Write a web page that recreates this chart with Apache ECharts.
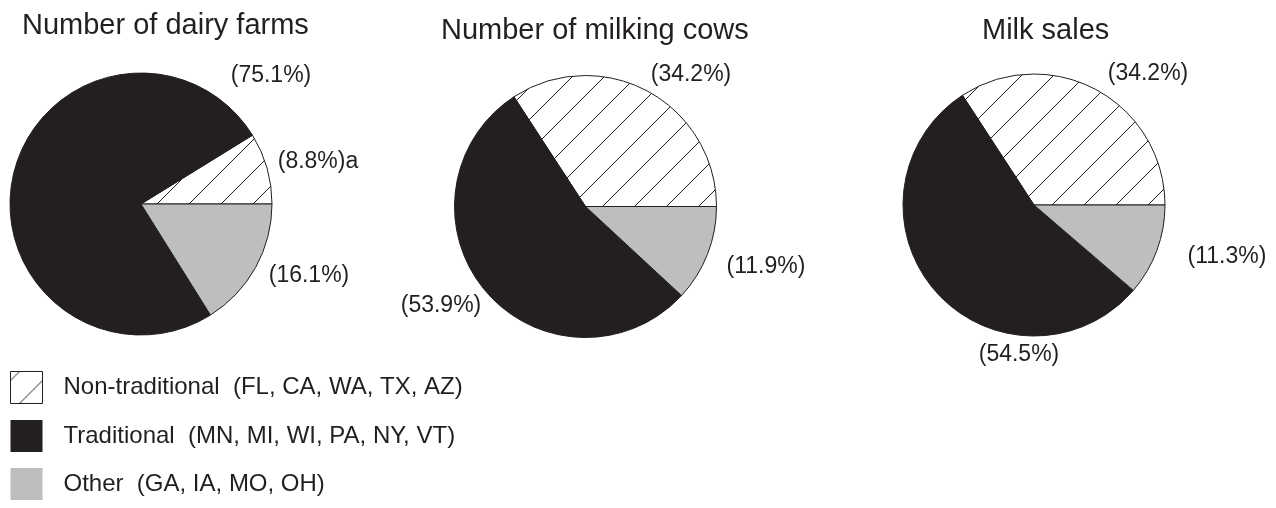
<!DOCTYPE html>
<html>
<head>
<meta charset="utf-8">
<script src="https://cdn.jsdelivr.net/npm/echarts@6/dist/echarts.min.js"></script>
<style>
  html, body { margin: 0; padding: 0; background: #ffffff; }
  #chart { width: 1276px; height: 508px; }
</style>
</head>
<body>
<div id="chart"></div>
<script>
// Dairy regions and their shares of farms, cows and sales (percent)
const regions = [
  'Non-traditional  (FL, CA, WA, TX, AZ)',
  'Traditional  (MN, MI, WI, PA, NY, VT)',
  'Other  (GA, IA, MO, OH)'
];
const panelTitles = ['Number of dairy farms', 'Number of milking cows', 'Milk sales'];
const dairyFarms = [8.8, 75.1, 16.1];
const milkingCows = [34.2, 53.9, 11.9];
const milkSales = [34.2, 54.5, 11.3];
const footnoteMarks = [['a', '', ''], ['', '', ''], ['', '', '']];

const INK = '#231f20';
const GREY = '#bcbec0';
const FONT = '"Liberation Sans", Arial, Helvetica, sans-serif';

// diagonal hatch tile for the non-traditional slices
function hatchTile() {
  const c = document.createElement('canvas');
  c.width = 32; c.height = 32;
  const g = c.getContext('2d');
  g.fillStyle = '#ffffff';
  g.fillRect(0, 0, 32, 32);
  g.strokeStyle = INK;
  g.lineWidth = 1;
  g.beginPath();
  g.moveTo(-2, 34); g.lineTo(34, -2);
  g.stroke();
  return c;
}
const hatch = { image: hatchTile(), repeat: 'repeat', x: 9, y: 0 };
const sliceColors = [hatch, INK, GREY];

// panel geometry and where each percentage label sits (in slice order)
const panels = [
  { values: dairyFarms,  center: [141, 204],     labelAt: [[318, 162], [271, 76], [309, 276]] },
  { values: milkingCows, center: [585.5, 206.5], labelAt: [[691, 75], [441, 306], [766, 267]] },
  { values: milkSales,   center: [1034, 205],    labelAt: [[1148, 74], [1019, 355], [1227, 257]] }
];
const titlePos = [[22, 11], [441, 16], [982, 16]];

const series = panels.map((p, si) => ({
  type: 'pie',
  center: p.center,
  radius: 131,
  startAngle: 0,
  clockwise: false,
  silent: true,
  avoidLabelOverlap: false,
  emphasis: { disabled: true },
  itemStyle: { borderColor: INK, borderWidth: 1 },
  label: {
    show: true,
    position: 'outside',
    fontFamily: FONT,
    fontSize: 23,
    color: INK,
    formatter: (d) => '(' + d.value.toFixed(1) + '%)' + footnoteMarks[si][d.dataIndex]
  },
  labelLine: { show: false },
  labelLayout: (params) => {
    const pos = p.labelAt[params.dataIndex];
    return { x: pos[0], y: pos[1], align: 'center', verticalAlign: 'middle' };
  },
  data: p.values.map((v, i) => ({
    name: regions[i],
    value: v,
    itemStyle: { color: sliceColors[i] }
  }))
}));

const chart = echarts.init(document.getElementById('chart'), null, { renderer: 'canvas' });
chart.setOption({
  animation: false,
  backgroundColor: '#ffffff',
  title: panelTitles.map((t, i) => ({
    text: t,
    left: titlePos[i][0],
    top: titlePos[i][1],
    padding: 0,
    textStyle: { fontFamily: FONT, fontSize: 29, fontWeight: 'normal', color: INK }
  })),
  legend: {
    orient: 'vertical',
    left: 10,
    top: 371,
    padding: 0,
    icon: 'rect',
    itemWidth: 32,
    itemHeight: 32,
    itemGap: 16,
    selectedMode: false,
    textStyle: { fontFamily: FONT, fontSize: 24, color: INK, padding: [0, 0, 0, 16] },
    data: [
      { name: regions[0], itemStyle: { borderColor: INK, borderWidth: 1 } },
      { name: regions[1], itemStyle: { borderWidth: 0 } },
      { name: regions[2], itemStyle: { borderWidth: 0 } }
    ]
  },
  series: series
});
</script>
</body>
</html>
